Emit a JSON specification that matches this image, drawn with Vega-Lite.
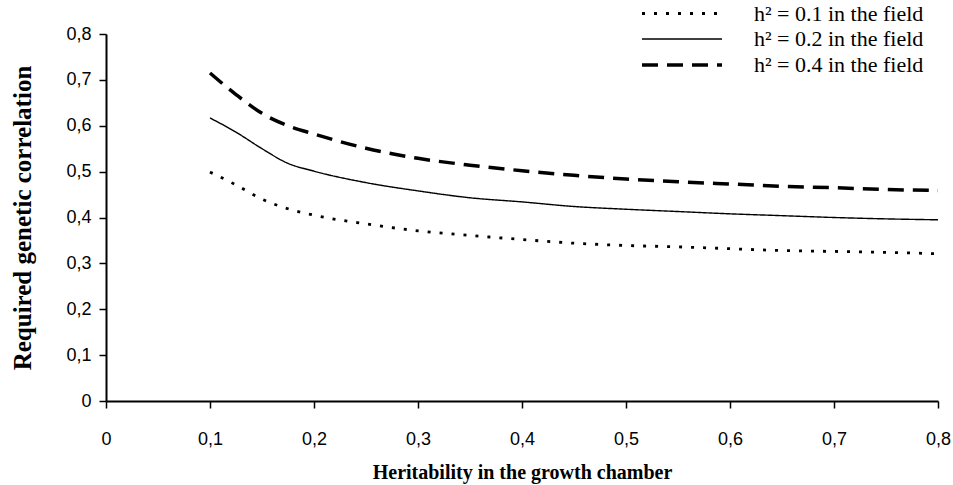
{
  "$schema": "https://vega.github.io/schema/vega-lite/v6.json",
  "width": 832,
  "height": 367,
  "autosize": {"type": "none"},
  "padding": {"left": 106, "top": 34, "right": 15, "bottom": 84},
  "background": "white",
  "config": {
    "view": {"stroke": null},
    "axis": {
      "grid": false,
      "domainColor": "black",
      "domainWidth": 2,
      "tickColor": "black",
      "tickWidth": 1.5,
      "tickSize": 7,
      "labelFont": "Liberation Sans",
      "labelFontSize": 18,
      "labelColor": "black",
      "titleFont": "Liberation Serif",
      "titleFontSize": 20,
      "titleFontWeight": "bold",
      "titleColor": "black"
    },
    "legend": {
      "title": null,
      "orient": "none",
      "legendX": 564,
      "legendY": -32,
      "padding": 0,
      "symbolType": "M-4,0H4",
      "symbolSize": 400,
      "symbolStrokeColor": "black",
      "labelFont": "Liberation Serif",
      "labelFontSize": 22,
      "labelColor": "black",
      "labelLimit": 400,
      "labelOffset": 60,
      "rowPadding": 3
    }
  },
  "data": {
    "values": [
      {"h": 0.1, "r": 0.499, "series": "h² = 0.1 in the field"},
      {"h": 0.125, "r": 0.471, "series": "h² = 0.1 in the field"},
      {"h": 0.15, "r": 0.440, "series": "h² = 0.1 in the field"},
      {"h": 0.175, "r": 0.419, "series": "h² = 0.1 in the field"},
      {"h": 0.2, "r": 0.405, "series": "h² = 0.1 in the field"},
      {"h": 0.25, "r": 0.386, "series": "h² = 0.1 in the field"},
      {"h": 0.3, "r": 0.371, "series": "h² = 0.1 in the field"},
      {"h": 0.35, "r": 0.361, "series": "h² = 0.1 in the field"},
      {"h": 0.4, "r": 0.352, "series": "h² = 0.1 in the field"},
      {"h": 0.45, "r": 0.344, "series": "h² = 0.1 in the field"},
      {"h": 0.5, "r": 0.339, "series": "h² = 0.1 in the field"},
      {"h": 0.55, "r": 0.336, "series": "h² = 0.1 in the field"},
      {"h": 0.6, "r": 0.332, "series": "h² = 0.1 in the field"},
      {"h": 0.65, "r": 0.328, "series": "h² = 0.1 in the field"},
      {"h": 0.7, "r": 0.326, "series": "h² = 0.1 in the field"},
      {"h": 0.75, "r": 0.324, "series": "h² = 0.1 in the field"},
      {"h": 0.8, "r": 0.321, "series": "h² = 0.1 in the field"},
      {"h": 0.1, "r": 0.617, "series": "h² = 0.2 in the field"},
      {"h": 0.125, "r": 0.586, "series": "h² = 0.2 in the field"},
      {"h": 0.15, "r": 0.550, "series": "h² = 0.2 in the field"},
      {"h": 0.175, "r": 0.518, "series": "h² = 0.2 in the field"},
      {"h": 0.2, "r": 0.501, "series": "h² = 0.2 in the field"},
      {"h": 0.25, "r": 0.476, "series": "h² = 0.2 in the field"},
      {"h": 0.3, "r": 0.458, "series": "h² = 0.2 in the field"},
      {"h": 0.35, "r": 0.443, "series": "h² = 0.2 in the field"},
      {"h": 0.4, "r": 0.434, "series": "h² = 0.2 in the field"},
      {"h": 0.45, "r": 0.424, "series": "h² = 0.2 in the field"},
      {"h": 0.5, "r": 0.418, "series": "h² = 0.2 in the field"},
      {"h": 0.55, "r": 0.413, "series": "h² = 0.2 in the field"},
      {"h": 0.6, "r": 0.408, "series": "h² = 0.2 in the field"},
      {"h": 0.65, "r": 0.404, "series": "h² = 0.2 in the field"},
      {"h": 0.7, "r": 0.400, "series": "h² = 0.2 in the field"},
      {"h": 0.75, "r": 0.397, "series": "h² = 0.2 in the field"},
      {"h": 0.8, "r": 0.395, "series": "h² = 0.2 in the field"},
      {"h": 0.1, "r": 0.715, "series": "h² = 0.4 in the field"},
      {"h": 0.125, "r": 0.668, "series": "h² = 0.4 in the field"},
      {"h": 0.15, "r": 0.627, "series": "h² = 0.4 in the field"},
      {"h": 0.175, "r": 0.600, "series": "h² = 0.4 in the field"},
      {"h": 0.2, "r": 0.582, "series": "h² = 0.4 in the field"},
      {"h": 0.25, "r": 0.551, "series": "h² = 0.4 in the field"},
      {"h": 0.3, "r": 0.529, "series": "h² = 0.4 in the field"},
      {"h": 0.35, "r": 0.514, "series": "h² = 0.4 in the field"},
      {"h": 0.4, "r": 0.502, "series": "h² = 0.4 in the field"},
      {"h": 0.45, "r": 0.492, "series": "h² = 0.4 in the field"},
      {"h": 0.5, "r": 0.484, "series": "h² = 0.4 in the field"},
      {"h": 0.55, "r": 0.478, "series": "h² = 0.4 in the field"},
      {"h": 0.6, "r": 0.473, "series": "h² = 0.4 in the field"},
      {"h": 0.65, "r": 0.468, "series": "h² = 0.4 in the field"},
      {"h": 0.7, "r": 0.465, "series": "h² = 0.4 in the field"},
      {"h": 0.75, "r": 0.461, "series": "h² = 0.4 in the field"},
      {"h": 0.8, "r": 0.459, "series": "h² = 0.4 in the field"}
    ]
  },
  "mark": {"type": "line", "color": "black", "interpolate": "monotone"},
  "encoding": {
    "x": {
      "field": "h",
      "type": "quantitative",
      "scale": {"domain": [0, 0.8], "nice": false},
      "axis": {
        "title": "Heritability in the growth chamber",
        "values": [0, 0.1, 0.2, 0.3, 0.4, 0.5, 0.6, 0.7, 0.8],
        "labelExpr": "datum.value == 0 ? '0' : replace(format(datum.value, '.1f'), '.', ',')",
        "labelPadding": 22,
        "titlePadding": 14,
        "labelFlush": false
      }
    },
    "y": {
      "field": "r",
      "type": "quantitative",
      "scale": {"domain": [0, 0.8], "nice": false},
      "axis": {
        "title": "Required genetic correlation",
        "titleFontSize": 25,
        "values": [0, 0.1, 0.2, 0.3, 0.4, 0.5, 0.6, 0.7, 0.8],
        "labelExpr": "datum.value == 0 ? '0' : replace(format(datum.value, '.1f'), '.', ',')",
        "labelPadding": 8,
        "titlePadding": 30,
        "labelFlush": false
      }
    },
    "strokeDash": {
      "field": "series",
      "type": "ordinal",
      "scale": {"type": "ordinal", "range": [[3, 9], [1, 0], [16, 9]]}
    },
    "strokeWidth": {
      "field": "series",
      "type": "ordinal",
      "scale": {"type": "ordinal", "range": [2.8, 1.4, 3.5]}
    }
  }
}
